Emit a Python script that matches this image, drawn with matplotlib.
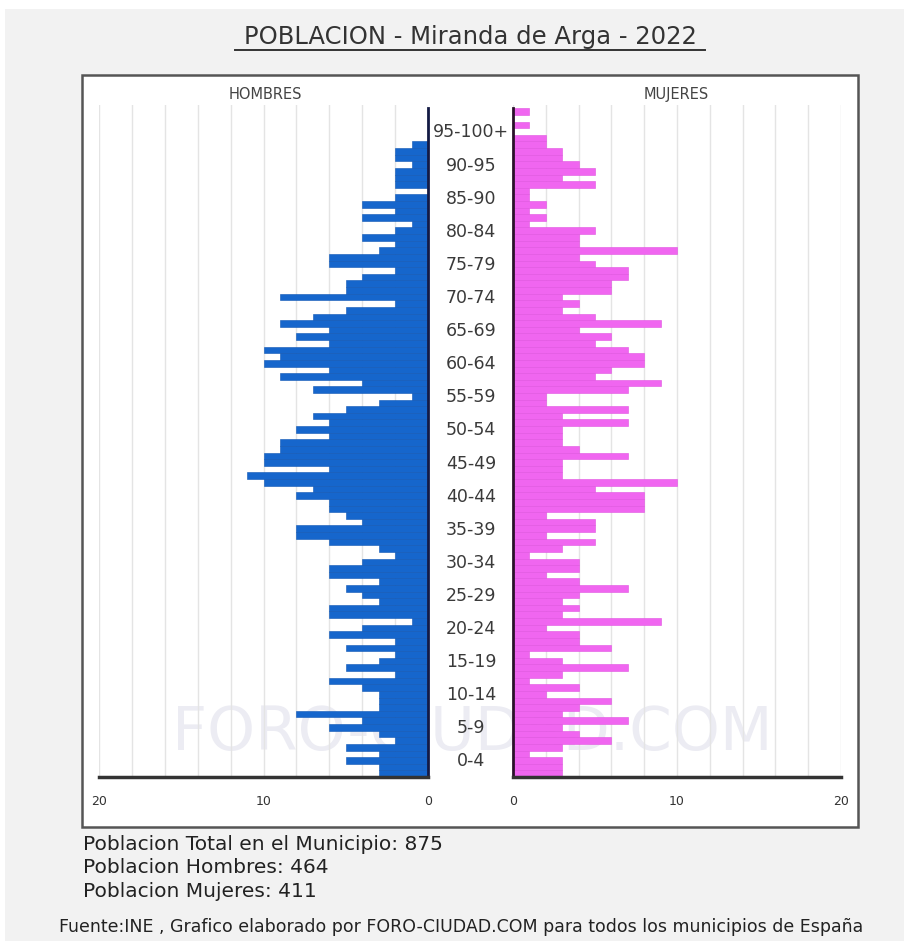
import matplotlib.pyplot as plt
from matplotlib.patches import Rectangle
from matplotlib.transforms import blended_transform_factory

# Datos: habitantes por edad simple (0 .. 100+)
edades = list(range(101))
hombres = [3, 3, 5, 3, 5, 2, 3, 6, 4, 8,
           3, 3, 3, 4, 6, 2, 5, 3, 2, 5,
           2, 6, 4, 1, 6, 6, 3, 4, 5, 3,
           6, 6, 4, 2, 3, 6, 8, 8, 4, 5,
           6, 6, 8, 7, 10, 11, 6, 10, 10, 9,
           9, 6, 8, 6, 7, 5, 3, 1, 7, 4,
           9, 6, 10, 9, 10, 6, 8, 6, 9, 7,
           5, 2, 9, 5, 5, 4, 2, 6, 6, 3,
           2, 4, 2, 1, 4, 2, 4, 2, 0, 2,
           2, 2, 1, 2, 2, 1, 0, 0, 0, 0,
           0]
mujeres = [3, 3, 3, 1, 3, 6, 4, 3, 7, 3,
           4, 6, 2, 4, 1, 3, 7, 3, 1, 6,
           4, 4, 2, 9, 3, 4, 3, 4, 7, 4,
           2, 4, 4, 1, 3, 5, 2, 5, 5, 2,
           8, 8, 8, 5, 10, 3, 3, 3, 7, 4,
           3, 3, 3, 7, 3, 7, 2, 2, 7, 9,
           5, 6, 8, 8, 7, 5, 6, 4, 9, 5,
           3, 4, 3, 6, 6, 7, 7, 5, 4, 10,
           4, 4, 5, 1, 2, 1, 2, 1, 1, 5,
           3, 5, 4, 3, 3, 2, 2, 0, 1, 0,
           1]
grupos = ['0-4', '5-9', '10-14', '15-19', '20-24', '25-29', '30-34', '35-39',
          '40-44', '45-49', '50-54', '55-59', '60-64', '65-69', '70-74',
          '75-79', '80-84', '85-90', '90-95', '95-100+']
total, total_h, total_m = 875, 464, 411

W, H = 909, 945
AZUL = '#1666cc'
ROSA = '#f066f0'


def fx(px):
    return px / W


def fy(px):
    return 1 - px / H


fig = plt.figure(figsize=(W / 100, H / 100), dpi=100)
fig.patch.set_facecolor('white')

# Fondo gris y recuadro blanco del grafico
fig.add_artist(Rectangle((fx(5), fy(942)), fx(904) - fx(5), fy(10) - fy(942),
                         transform=fig.transFigure, facecolor='#f2f2f2',
                         edgecolor='none', zorder=-3))
fig.add_artist(Rectangle((fx(82), fy(828)), fx(858) - fx(82), fy(76) - fy(828),
                         transform=fig.transFigure, facecolor='white',
                         edgecolor='#555555', lw=1.8, zorder=-2))

# Marca de agua (detras de las barras)
fig.text(fx(472), fy(734), 'FORO-CIUDAD.COM', ha='center', va='center',
         fontsize=44, color='#ececf3', zorder=-1)

bottom = fy(778)
height = fy(106) - bottom
ax_h = fig.add_axes([fx(99), bottom, fx(428) - fx(99), height])
ax_m = fig.add_axes([fx(513), bottom, fx(841) - fx(513), height])

ax_h.barh(edades, hombres, height=1.0, color=AZUL, edgecolor='#0e56b4', lw=0.4, zorder=2)
ax_m.barh(edades, mujeres, height=1.0, color=ROSA, edgecolor='#e052e0', lw=0.4, zorder=2)

for ax in (ax_h, ax_m):
    ax.set_facecolor('none')
    ax.set_ylim(-0.5, 101.0)
    ax.set_yticks([])
    ax.set_xticks([0, 10, 20])
    ax.set_xticks(range(2, 21, 2), minor=True)
    ax.grid(axis='x', which='both', color='#e4e4e4', lw=1.0, zorder=0)
    ax.tick_params(axis='x', which='both', length=0, pad=12,
                   labelsize=9, labelcolor='#333333')
    ax.spines['top'].set_visible(False)
    ax.spines['bottom'].set_color('#333333')
    ax.spines['bottom'].set_linewidth(2.5)

ax_h.set_xlim(20, 0)
ax_m.set_xlim(0, 20)
ax_h.spines['left'].set_visible(False)
ax_h.spines['right'].set_color('#141a44')
ax_h.spines['right'].set_linewidth(2)
ax_h.spines['right'].set_bounds(-0.5, 100.5)
ax_m.spines['right'].set_visible(False)
ax_m.spines['left'].set_color('#2a102a')
ax_m.spines['left'].set_linewidth(2)
ax_m.spines['left'].set_bounds(-0.5, 100.5)

# Etiquetas de grupos de edad en el centro
trans = blended_transform_factory(fig.transFigure, ax_h.transData)
for i, g in enumerate(grupos):
    ax_h.text(fx(471), i * 5 + 2, g, transform=trans, ha='center', va='center',
              fontsize=12.5, color='#3a3a3a', clip_on=False)

fig.text(fx(265), fy(95), 'HOMBRES', ha='center', va='center', fontsize=10.5, color='#444444')
fig.text(fx(676), fy(95), 'MUJERES', ha='center', va='center', fontsize=10.5, color='#444444')

# Titulo subrayado
fig.text(fx(470), fy(37), 'POBLACION - Miranda de Arga - 2022', ha='center',
         va='center', fontsize=17.5, color='#333333')
fig.add_artist(plt.Line2D([fx(235), fx(705)], [fy(51), fy(51)], transform=fig.transFigure,
                          color='#333333', lw=1.4))

# Textos inferiores
estilo = dict(ha='left', va='center', fontsize=14.5, color='#222222')
fig.text(fx(83), fy(845), f'Poblacion Total en el Municipio: {total}', **estilo)
fig.text(fx(83), fy(868), f'Poblacion Hombres: {total_h}', **estilo)
fig.text(fx(83), fy(892), f'Poblacion Mujeres: {total_m}', **estilo)
fig.text(fx(461), fy(927), 'Fuente:INE , Grafico elaborado por FORO-CIUDAD.COM para todos '
         'los municipios de España', ha='center', va='center', fontsize=12.5, color='#222222')

fig.savefig('out.png', dpi=100)
